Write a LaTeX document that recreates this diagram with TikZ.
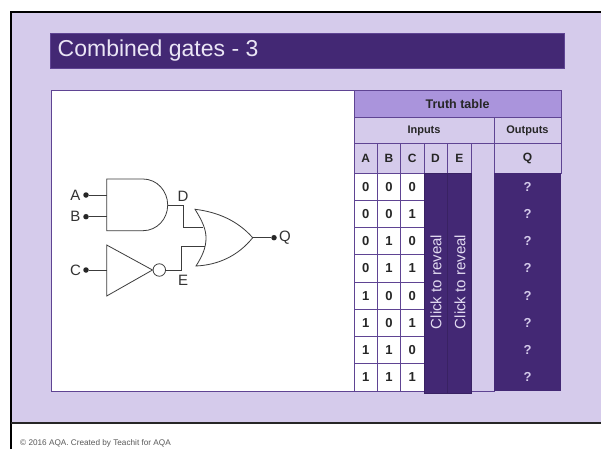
\documentclass[tikz,border=0pt]{standalone}
\usepackage{fontspec}
\setmainfont{Liberation Sans}
\definecolor{lilac}{HTML}{D5CBEB}
\definecolor{darkp}{HTML}{432874}
\definecolor{midp}{HTML}{AA94DC}
\definecolor{edgep}{HTML}{5F4493}
\definecolor{wirec}{HTML}{3C3C3C}
\newcommand{\cellbox}[7]{%
  \node[tcell,#6,minimum width=#4pt-#2pt,minimum height=#5pt-#3pt] (#1) at ({(#2+#4)/2},{(#3+#5)/2}) {#7};}
\tikzset{
  tcell/.style={draw=edgep,line width=1pt,inner sep=0pt,font=\bfseries\fontsize{11}{12}\selectfont,text=black!85},
  headcell/.style={fill=lilac},
  lettercell/.style={fill=lilac,font=\bfseries\fontsize{12}{13}\selectfont},
  whitecell/.style={fill=white,font=\bfseries\fontsize{13}{14}\selectfont},
  darkcell/.style={fill=darkp,draw=darkp!85!black,text=lilac},
  gateline/.style={draw=wirec,line width=0.8pt,line join=miter},
  wire/.style={draw=wirec,line width=0.8pt},
  pin/.style={circle,fill=black!85,inner sep=0pt,minimum size=5.5pt},
  pinlabel/.style={font=\fontsize{15}{16}\selectfont,text=black!80,inner sep=0pt},
}
\begin{document}
\begin{tikzpicture}[x=1pt,y=-1pt]
\useasboundingbox (0,0) rectangle (601,449);
\fill[white] (0,0) rectangle (601,449);
% slide
\fill[lilac] (11,12) rectangle (601,423);
\draw[black,line width=2.2pt] (11,449) -- (11,12) -- (601,12);
\draw[black!85,line width=1.4pt] (11,423) -- (601,423);
% title
\node[draw=edgep,line width=0.5pt,fill=darkp,minimum width=514pt,minimum height=35pt,inner sep=0pt,anchor=north west] (title) at (50,33) {};
\node[anchor=west,text=lilac!50!white,font=\fontsize{23}{26}\selectfont,inner sep=0pt] (titletext) at (57.5,51) {Combined gates - 3};
% diagram panel
\node[draw=edgep,line width=1.3pt,fill=white,minimum width=303pt,minimum height=301pt,inner sep=0pt,anchor=north west] (panel) at (51,90) {};
% table headers
\cellbox{tt}{354}{91}{561}{118}{fill=midp,font=\bfseries\fontsize{12.5}{13}\selectfont}{Truth table}
\cellbox{inputs}{354}{118}{494}{144}{headcell}{Inputs}
\cellbox{outputs}{494}{118}{561}{144}{headcell}{Outputs}
\cellbox{ha}{354}{144}{377.5}{173}{lettercell}{A}
\cellbox{hb}{377.5}{144}{400.5}{173}{lettercell}{B}
\cellbox{hc}{400.5}{144}{424}{173}{lettercell}{C}
\cellbox{hd}{424}{144}{447}{173}{lettercell}{D}
\cellbox{he}{447}{144}{471.5}{173}{lettercell}{E}
\cellbox{hq}{494}{144}{561}{173}{lettercell}{Q}
\cellbox{blank}{471.5}{144}{494}{391}{headcell}{}
% rows
\foreach \i/\a/\b/\c in {0/0/0/0,1/0/0/1,2/0/1/0,3/0/1/1,4/1/0/0,5/1/0/1,6/1/1/0,7/1/1/1}{
  \pgfmathsetmacro{\ya}{173+27.25*\i}
  \pgfmathsetmacro{\yb}{\ya+27.25}
  \cellbox{a\i}{354}{\ya}{377.5}{\yb}{whitecell}{\a}
  \cellbox{b\i}{377.5}{\ya}{400.5}{\yb}{whitecell}{\b}
  \cellbox{c\i}{400.5}{\ya}{424}{\yb}{whitecell}{\c}
  \node[fill=darkp,inner sep=0pt,minimum width=67pt,minimum height=27.25pt,text=lilac,font=\bfseries\fontsize{13}{14}\selectfont] (q\i) at (527.5,{(\ya+\yb)/2}) {?};
}
% reveal bars
\foreach \n/\xa/\xb in {revealD/424/447.5,revealE/447.5/471.5}{
  \cellbox{\n}{\xa}{173}{\xb}{393}{darkcell}{}
}
\node[rotate=90,text=lilac!70!white,font=\fontsize{15}{16}\selectfont,inner sep=0pt] (ctrD) at (436,282) {Click to reveal};
\node[rotate=90,text=lilac!70!white,font=\fontsize{15}{16}\selectfont,inner sep=0pt] (ctrE) at (460,282) {Click to reveal};
% gates
\draw[gateline] (106.7,179) -- (143,179) .. controls (157,179) and (167.7,191) .. (167.7,205) .. controls (167.7,219) and (157,230.7) .. (143,230.7) -- (106.7,230.7) -- cycle;
\coordinate (andA) at (106.7,195);
\coordinate (andB) at (106.7,216.7);
\coordinate (andOut) at (167.7,205);
\draw[gateline] (195,209.3) .. controls (203,222) and (206,230) .. (206,238) .. controls (206,247) and (203,255) .. (196,266) .. controls (218,265) and (238,256) .. (252.7,237.7) .. controls (238,221) and (218,212) .. (195,209.3) -- cycle;
\coordinate (orD) at (203,227.3);
\coordinate (orE) at (204.5,246);
\coordinate (orOut) at (252.7,237.7);
\draw[gateline] (106.7,245) -- (152.5,270) -- (106.7,296) -- cycle;
\coordinate (notIn) at (106.7,270);
\node[circle,gateline,fill=white,inner sep=0pt,minimum size=12.5pt] (bub) at (159.3,270) {};
% pins
\node[pin] (pa) at (86,195) {};
\node[pin] (pb) at (86,216.7) {};
\node[pin] (pc) at (86,270) {};
\node[pin] (pq) at (274,237.7) {};
\node[pinlabel] (la) at (75.5,195) {A};
\node[pinlabel] (lb) at (75.5,216) {B};
\node[pinlabel] (lc) at (75.5,270) {C};
\node[pinlabel] (lq) at (285,238) {Q};
\node[pinlabel] (ld) at (183,196) {D};
\node[pinlabel] (le) at (183,280) {E};
% wires
\draw[wire] (pa) -- (andA);
\draw[wire] (pb) -- (andB);
\draw[wire] (pc) -- (notIn);
\draw[wire] (orOut) -- (pq);
\draw[wire] (andOut) -- (183.3,205) -- (183.3,227.3) -- (orD);
\draw[wire] (bub.east) -- (181,270) -- (181,246) -- (orE);
% footer
\node[anchor=west,inner sep=0pt,text=black!65,font=\fontsize{8.2}{9}\selectfont] (foot) at (20,443) {© 2016 AQA. Created by Teachit for AQA};
\end{tikzpicture}
\end{document}
